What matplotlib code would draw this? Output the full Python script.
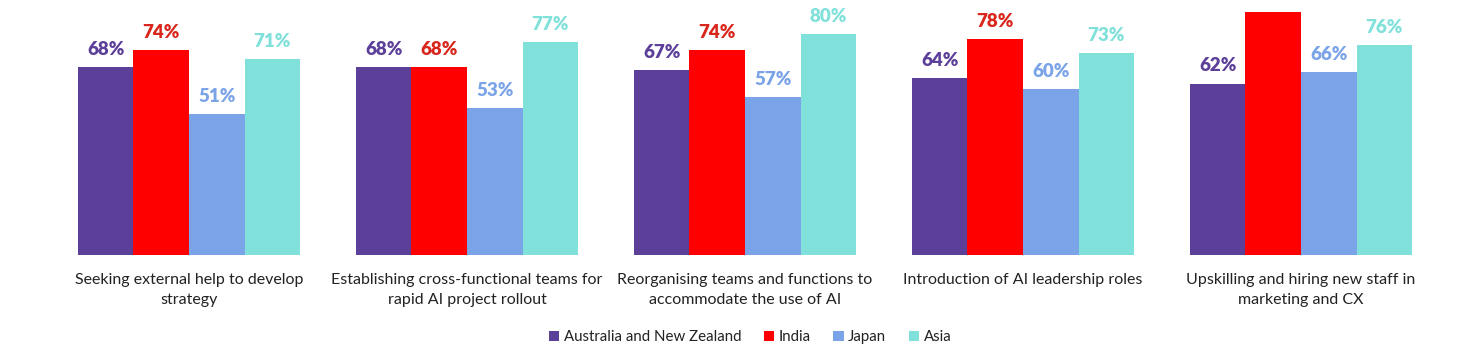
import matplotlib
matplotlib.use("Agg")
import matplotlib.pyplot as plt
import numpy as np

categories = [
    "Seeking external help to develop\nstrategy",
    "Establishing cross-functional teams for\nrapid AI project rollout",
    "Reorganising teams and functions to\naccommodate the use of AI",
    "Introduction of AI leadership roles",
    "Upskilling and hiring new staff in\nmarketing and CX",
]
series_names = ["Australia and New Zealand", "India", "Japan", "Asia"]
anz = [68, 68, 67, 64, 62]
india = [74, 68, 74, 78, 88]
japan = [51, 53, 57, 60, 66]
asia = [71, 77, 80, 73, 76]
series_values = [anz, india, japan, asia]

bar_colors = ["#5c3f99", "#ff0000", "#7ba3e8", "#80e0da"]
label_colors = ["#5c3f99", "#d9261c", "#7ba3e8", "#80e0da"]

plt.rcParams['font.family'] = ['Lato', 'DejaVu Sans']

W, H = 1462, 356
fig = plt.figure(figsize=(W / 100, H / 100), dpi=100)
ax = fig.add_axes([50 / W, 101 / H, 1390 / W, 255 / H])

YMAX = 92.2
x = np.arange(len(categories))
bw = 0.2
for i, (name, vals) in enumerate(zip(series_names, series_values)):
    pos = x + (i - 1.5) * bw
    ax.bar(pos, vals, width=bw, color=bar_colors[i], label=name)
    for xp, v in zip(pos, vals):
        if v + 7 > YMAX:
            continue  # label falls outside the chart area (not visible in the original)
        ax.annotate(f"{v}%", (xp, v), xytext=(0, 6.5), textcoords="offset points",
                    ha="center", va="bottom", fontsize=13.5, fontweight="heavy",
                    color=label_colors[i])

ax.set_xlim(-0.5, 4.5)
ax.set_ylim(0, YMAX)
ax.set_xticks(x)
ax.set_xticklabels(categories, fontsize=11.5, color="#222222", linespacing=1.5)
ax.tick_params(axis="x", length=0, pad=13)
ax.set_yticks([])
for s in ax.spines.values():
    s.set_visible(False)

fig.legend(loc="lower center", bbox_to_anchor=(0.513, -0.005), ncol=4, frameon=False,
           fontsize=10.8, handlelength=0.7, handleheight=0.7, handletextpad=0.3,
           columnspacing=1.5, labelcolor="#222222")

fig.savefig("out.png", dpi=100)
